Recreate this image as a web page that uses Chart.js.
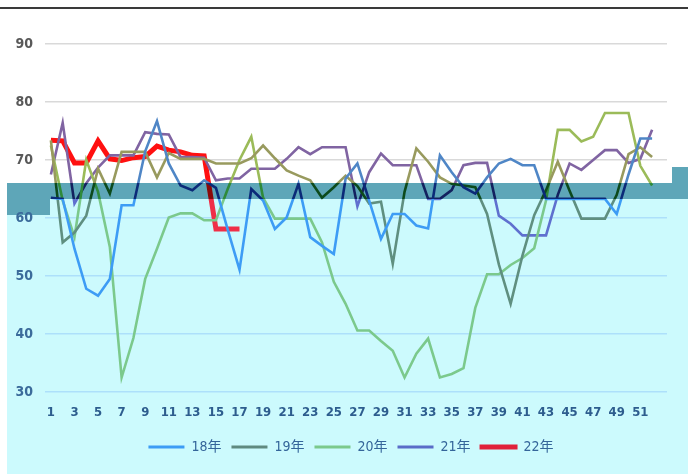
<!DOCTYPE html>
<html>
<head>
<meta charset="utf-8">
<script src="https://cdn.jsdelivr.net/npm/chart.js@4.4.1/dist/chart.umd.min.js"></script>
<style>
html, body { margin:0; padding:0; background:#fff; }
#wrap { position:relative; width:694px; height:474px; overflow:hidden; }
.bg { position:absolute; }
#topline { left:0; top:7px; width:688px; height:2px; background:#3a3a3a; }
#cyan { left:7px; top:199px; width:681px; height:275px; background:#ccfafd; }
#band { left:7px; top:183px; width:681px; height:16px; background:#5ea6b8; }
#bandleft { left:7px; top:199px; width:43px; height:16px; background:#5ea6b8; }
#bandright { left:672px; top:167px; width:16px; height:16px; background:#5ea6b8; }
canvas { position:absolute; left:0; top:0; }
</style>
</head>
<body>
<div id="wrap">
  <div class="bg" id="topline"></div>
  <div class="bg" id="cyan"></div>
  <div class="bg" id="band"></div>
  <div class="bg" id="bandleft"></div>
  <div class="bg" id="bandright"></div>
  <canvas id="c" width="694" height="474"></canvas>
</div>
<script>
// week numbers
var weeks = [1,2,3,4,5,6,7,8,9,10,11,12,13,14,15,16,17,18,19,20,21,22,23,24,25,26,
             27,28,29,30,31,32,33,34,35,36,37,38,39,40,41,42,43,44,45,46,47,48,49,50,51,52];

var y18 = [63.5,63.3,54.7,47.8,46.6,49.5,62.2,62.2,71.5,76.7,69.4,65.6,64.8,66.5,65.2,58,51.1,65,63,58.1,
           60.1,65.9,56.7,55.2,53.8,66.8,69.4,63,56.4,60.7,60.7,58.7,58.2,70.8,67.9,65.3,64.2,67,69.4,70.2,
           69.1,69.1,63.3,63.3,63.3,63.3,63.3,63.3,60.7,67.5,73.7,73.7];
var y19 = [73.4,55.8,57.5,60.4,68.5,64.2,71.4,71.4,71.4,67,71.2,70.2,70.2,70.2,69.4,69.4,69.4,70.3,72.5,70.3,
           68.2,67.3,66.5,63.5,65.3,67.3,65.5,62.5,62.8,52.1,64.5,72,69.7,67,65.9,65.6,65.3,60.7,52,45.2,
           53.5,60.5,64.8,69.7,64.7,59.9,59.9,59.9,64,71,72.2,70.5];
var y20 = [72.5,63,56.7,70,64.5,55,32.5,39.3,49.5,54.7,60.1,60.8,60.8,59.6,59.6,65,70,74,63.5,59.9,
           59.9,59.9,59.9,55.8,49,45.2,40.6,40.6,38.8,37.1,32.5,36.6,39.2,32.5,33.1,34.1,44.5,50.3,50.3,51.9,
           53.1,54.8,63,75.2,75.2,73.2,74,78.1,78.1,78.1,69,65.6];
var y21 = [67.5,76.4,62.5,66,68.7,70.8,70.8,70.8,74.8,74.5,74.4,70.5,70.5,70.4,66.5,66.8,66.8,68.5,68.5,68.5,
           70.2,72.2,71,72.2,72.2,72.2,62,67.9,71.1,69.1,69.1,69.1,63.3,63.3,64.8,69.1,69.5,69.5,60.4,59,
           57,57,57,64,69.4,68.3,70,71.7,71.7,69.5,70.2,75.2];
var y22 = [73.4,73.3,69.5,69.5,73.3,70.2,69.9,70.4,70.6,72.4,71.7,71.4,70.8,70.7,58.1,58.1,58.1];

var seriesNames = ['18年','19年','20年','21年','22年'];

// colours: above band / inside band / below band, and legend
var topColors  = ['#4f86c6','#989a5e','#9bbb59','#8064a2','#ff1010'];
var midColors  = ['#0b2a78','#0c4a1c','#2f8a3a','#13215e','#8a0a0a'];
var lowColors  = ['#3d9cf5','#5f8f80','#7bc98c','#5f70cf','#ef2f48'];
var legendColors = ['#3d9cf5','#5f8a80','#7bc98c','#5a6cc8','#e0203a'];

var canvas = document.getElementById('c');
var ctx = canvas.getContext('2d');

function bandGradient(top, mid, low) {
    var g = ctx.createLinearGradient(0, 0, 0, 474);
    var a = 183 / 474, b = 199 / 474;
    g.addColorStop(0, top);
    g.addColorStop(a, top);
    g.addColorStop(a, mid);
    g.addColorStop(b, mid);
    g.addColorStop(b, low);
    g.addColorStop(1, low);
    return g;
}

var allData = [y18, y19, y20, y21, y22];
var datasets = [];
for (let i in allData) {
    datasets.push({
        label : seriesNames[i],
        data : allData[i],
        borderColor : bandGradient(topColors[i], midColors[i], lowColors[i]),
        backgroundColor : legendColors[i],
        borderWidth : i == 4 ? 5 : 2.6,
        pointRadius : 0,
        tension : 0,
        fill : false
    });
}

// gridlines run a little past the last week, legend sits a bit right of centre
var tweakLayout = {
    id : 'tweakLayout',
    afterLayout : function(c) {
        c.chartArea.right += 9;
        c.legend.left += 22;
        c.legend.right += 22;
    }
};

var font = '"Liberation Sans Narrow", "DejaVu Sans Condensed", "Noto Sans CJK SC", sans-serif';

var chart = new Chart(ctx, {
    type : 'line',
    data : { labels : weeks, datasets : datasets },
    plugins : [tweakLayout],
    options : {
        responsive : false,
        animation : false,
        layout : { padding : { left : 0, right : 36, top : 44, bottom : 10 } },
        plugins : {
            tooltip : { enabled : false },
            legend : {
                position : 'bottom',
                labels : {
                    boxWidth : 36,
                    boxHeight : 3,
                    padding : 10,
                    color : '#34659a',
                    font : { family : font, size : 14 },
                    generateLabels : function(c) {
                        return c.data.datasets.map(function(d, i) {
                            return {
                                text : d.label,
                                fillStyle : legendColors[i],
                                strokeStyle : legendColors[i],
                                lineWidth : i == 4 ? 2 : 0,
                                hidden : false,
                                datasetIndex : i,
                                fontColor : '#34659a'
                            };
                        });
                    }
                }
            }
        },
        scales : {
            x : {
                offset : true,
                afterFit : function(s) { s.height = 38; },
                grid : { display : false, drawTicks : false, offset : true },
                border : { display : false },
                ticks : {
                    autoSkip : false,
                    maxRotation : 0,
                    padding : 13,
                    color : '#2d5d8e',
                    font : { family : font, size : 13, weight : 'bold' },
                    callback : function(v, idx) { return idx % 2 == 0 ? this.getLabelForValue(v) : ''; }
                }
            },
            y : {
                min : 30,
                max : 90,
                afterFit : function(s) { s.width = 45; },
                grid : {
                    drawTicks : false,
                    lineWidth : 1.5,
                    color : function(c) { return c.tick && c.tick.value >= 70 ? '#d9d9d9' : '#ade0fb'; }
                },
                border : { display : false },
                ticks : {
                    stepSize : 10,
                    padding : 12,
                    font : { family : font, size : 14, weight : 'bold' },
                    color : function(c) { return c.tick && c.tick.value >= 70 ? '#595959' : '#3b6b9b'; }
                }
            }
        }
    }
});
</script>
</body>
</html>
